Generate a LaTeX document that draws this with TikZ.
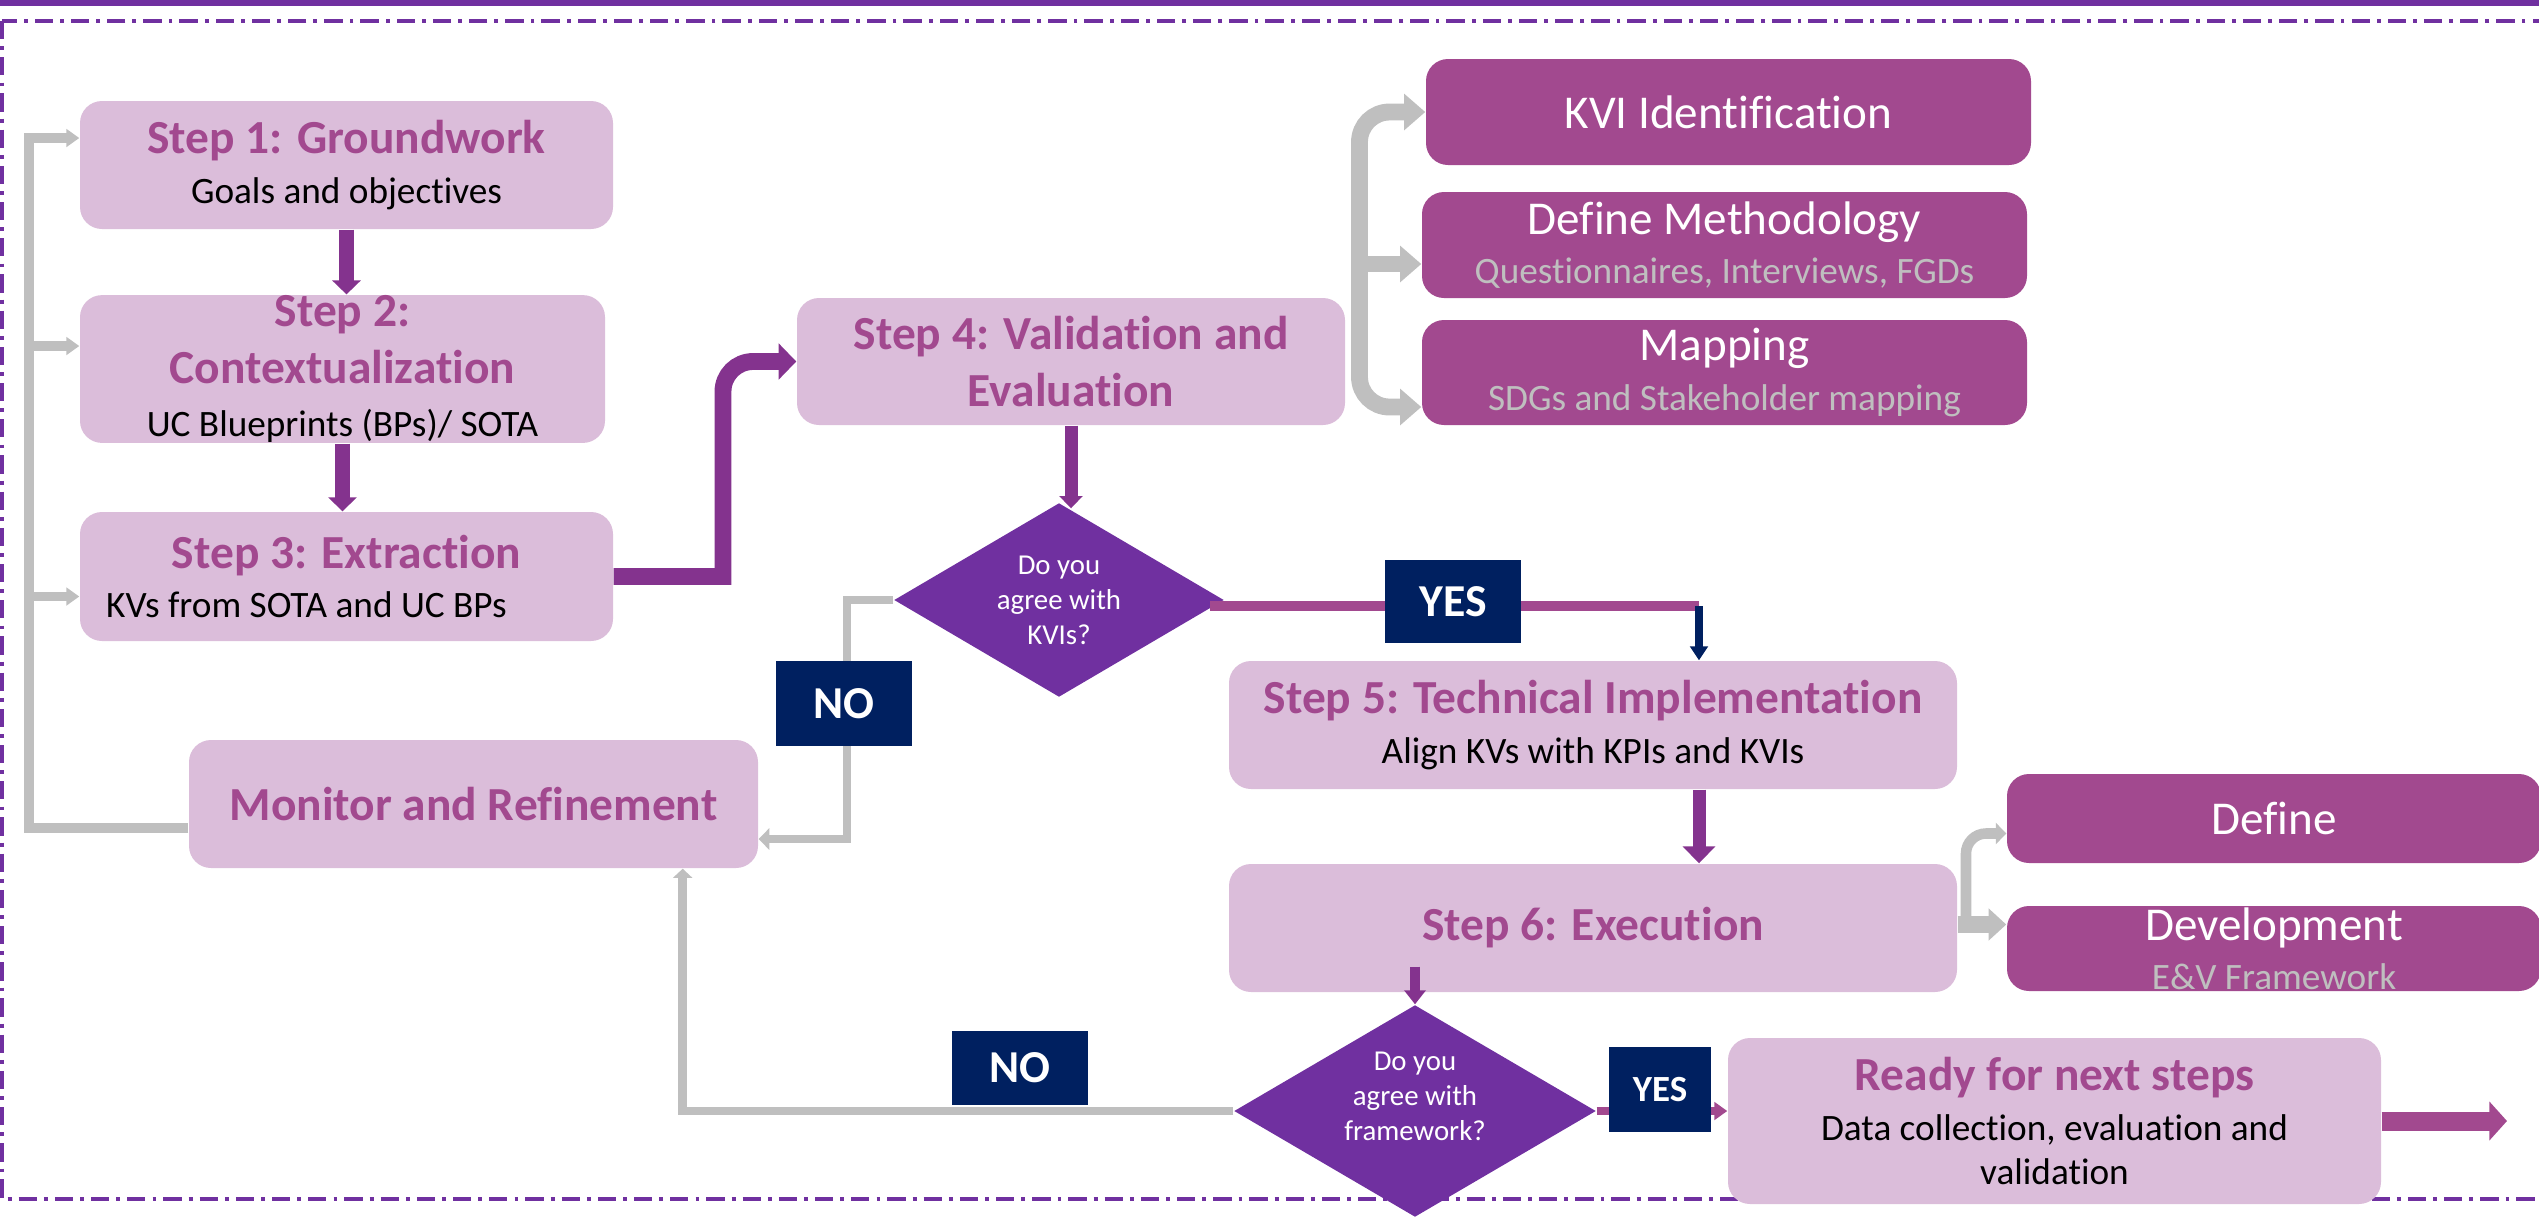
\documentclass[tikz,border=0pt]{standalone}
\usepackage{fontspec}
\setmainfont{Carlito}[Ligatures=NoCommon]
\usepackage{xcolor}
\usepackage{tikz}
\usetikzlibrary{arrows.meta, positioning, calc, shapes.geometric}

\definecolor{frame}{HTML}{7030A0}
\definecolor{lilac}{HTML}{DBBDDA}
\definecolor{mauve}{HTML}{A2498F}
\definecolor{plum}{HTML}{84338E}
\definecolor{navy}{HTML}{002060}
\definecolor{ash}{HTML}{BFBFBF}

\newcommand{\hd}[1]{{\fontsize{13.5}{16}\selectfont\bfseries\color{mauve}#1}}
\newcommand{\faint}[1]{{\fontsize{10.6}{12.7}\selectfont\color{ash}#1}}

\begin{document}
\begin{tikzpicture}[
    font=\fontsize{10.6}{12.7}\selectfont,
    box/.style={rounded corners=0.22cm, inner sep=0pt, align=center},
    stepbox/.style={box, fill=lilac},
    darkbox/.style={box, fill=mauve, text=white, font=\fontsize{13.4}{14}\selectfont},
    decide/.style={diamond, aspect=1.7, fill=frame, text=white, inner sep=0pt, align=center,
                   font=\fontsize{8.2}{10}\selectfont},
    tag/.style={fill=navy, text=white, inner sep=0pt, font=\fontsize{13}{14}\selectfont\bfseries},
    flow/.style={draw=plum, line width=4pt, -{Triangle[length=4pt, width=8pt]}},
    bigflow/.style={draw=plum, line width=4.8pt, -{Triangle[length=5pt, width=10pt]}},
    yline/.style={draw=mauve, line width=2.8pt},
    gline/.style={draw=ash, line width=2.8pt, -{Triangle[length=3.7pt, width=5pt]}},
    gthin/.style={draw=ash, line width=2.5pt, -{Triangle[length=3pt, width=6pt]}},
    gbar/.style={draw=ash, line width=4.8pt}
  ]
    \useasboundingbox (0,0) rectangle (25.39,-12.20);
    \fill[frame] (0,0.01) rectangle (25.39,-0.06);
    \draw[frame, line width=1.1pt, dash pattern=on 5.2pt off 2pt on 1.1pt off 2pt]
      (0.02,-0.21) rectangle (25.6,-11.99);

    \node[stepbox, minimum width=5.33cm, minimum height=1.28cm] (s1) at (3.465,-1.65)
      {\hd{Step 1: Groundwork}\\[1.5pt] Goals and objectives};
    \node[stepbox, minimum width=5.25cm, minimum height=1.42cm] (s2) at (3.425,-3.69)
      {\hd{Step 2:}\\[3.6pt] \hd{Contextualization}\\[2.5pt] UC Blueprints (BPs)/ SOTA};
    \node[stepbox, minimum width=5.33cm, minimum height=1.29cm] (s3) at (3.465,-5.765)
      {\hd{Step 3: Extraction}\\[1.5pt] KVs from SOTA and UC BPs\kern0.8cm};
    \node[stepbox, minimum width=5.48cm, minimum height=1.27cm] (s4) at (10.71,-3.615)
      {\hd{Step 4: Validation and}\\[3.6pt] \hd{Evaluation}};
    \node[darkbox, minimum width=6.05cm, minimum height=1.06cm] (kvi) at (17.285,-1.12)
      {KVI Identification};
    \node[darkbox, minimum width=6.05cm, minimum height=1.06cm] (dm) at (17.245,-2.45)
      {Define Methodology\\ \faint{Questionnaires, Interviews, FGDs}};
    \node[darkbox, minimum width=6.05cm, minimum height=1.05cm] (map) at (17.245,-3.725)
      {Mapping\\ \faint{SDGs and Stakeholder mapping}};
    \node[decide, minimum width=3.30cm, minimum height=1.94cm] (d1) at (10.59,-6.00)
      {Do you\\agree with\\KVIs?};
    \node[stepbox, minimum width=7.28cm, minimum height=1.28cm] (s5) at (15.93,-7.25)
      {\hd{Step 5: Technical Implementation}\\[1.5pt] Align KVs with KPIs and KVIs};
    \node[stepbox, minimum width=5.69cm, minimum height=1.28cm] (mon) at (4.735,-8.04)
      {\hd{Monitor and Refinement}};
    \node[stepbox, minimum width=7.28cm, minimum height=1.28cm] (s6) at (15.93,-9.28)
      {\hd{Step 6: Execution}};
    \node[darkbox, minimum width=5.34cm, minimum height=0.89cm] (def) at (22.74,-8.185)
      {Define};
    \node[darkbox, minimum width=5.34cm, minimum height=0.85cm] (dev) at (22.74,-9.485)
      {Development\\ \faint{E\&V Framework}};
    \node[decide, minimum width=3.62cm, minimum height=2.12cm, text depth=8.3pt] (d2)
      at (14.15,-11.11) {Do you\\agree with\\framework?};
    \node[stepbox, minimum width=6.53cm, minimum height=1.66cm] (ready) at (20.545,-11.21)
      {\hd{Ready for next steps}\\[1.5pt] Data collection, evaluation and\\validation};

    \coordinate (rail) at (0.29,-1.38);
    \coordinate (in2) at ($(s2.west)+(0,0.23)$);
    \coordinate (in3) at ($(s3.west)+(0,-0.20)$);
    \coordinate (riser) at (7.23,-4.6);
    \coordinate (fork) at (13.595,-4.07);
    \coordinate (dmin) at ($(dm.west)+(0,-0.19)$);
    \coordinate (nobend) at (8.47,-8.39);
    \coordinate (monup) at ($(mon.south east)+(-0.76,0)$);
    \coordinate (ybend) at (16.99,-6.06);
    \coordinate (devin) at ($(dev.west)+(0,0.24)$);
    \coordinate (sfork) at (19.66,-9.245);
    \coordinate (out) at (25.07,-11.21);

    \draw[flow] (s1.south) -- (s1.south |- s2.north);
    \draw[flow] (s2.south) -- (s2.south |- s3.north);
    \draw[bigflow] (s3.east) -- (s3.east -| riser) [rounded corners=0.3cm]
      -- (riser |- s4.west) -- (s4.west);
    \draw[flow, line width=3.7pt, -{Triangle[length=3.5pt, width=6.5pt]}]
      (s4.south) -- ($(s4.south |- d1.north)+(0,-0.06)$);
    \draw[gbar, {Triangle[length=6pt, width=10pt]}-{Triangle[length=6pt, width=10pt]}]
      (kvi.west) [rounded corners=0.3cm] -| (fork) [sharp corners] -- (fork -| map.west);
    \draw[gbar, -{Triangle[length=6pt, width=10pt]}] (fork |- dmin) -- (dmin);

    \draw[gline] ($(mon.west)+(0,-0.24)$) -| (rail) -- (rail -| s1.west);
    \draw[gline] (rail |- in2) -- (in2);
    \draw[gline] (rail |- in3) -- (in3);

    \draw[gthin] (d1.west) -| (nobend) -- (nobend -| mon.east);
    \draw[gthin, -{Triangle[length=2.6pt, width=5.4pt]}] (d2.west) -| (monup);

    \draw[yline] ($(d1.east)+(-0.15,-0.06)$) -- (ybend);
    \draw[navy, line width=2pt, -{Triangle[length=4pt, width=5pt]}] (ybend) -- (ybend |- s5.north);
    \draw[flow, line width=3.7pt, -{Triangle[length=4.8pt, width=9pt]}]
      (ybend |- s5.south) -- (ybend |- s6.north);
    \draw[flow, line width=2.8pt, -{Triangle[length=4pt, width=6pt]}]
      ($(d2.north |- s6.south)+(0,0.26)$) -- (d2.north);

    \draw[gbar, -{Triangle[length=5pt, width=8.8pt]}] (s6.east |- devin) -- (devin);
    \draw[gline, line width=3pt, rounded corners=0.2cm, -{Triangle[length=3pt, width=6pt]}]
      (sfork) |- ($(def.west)+(0,-0.15)$);

    \draw[yline, line width=2.3pt, -{Triangle[length=3.7pt, width=5pt]}]
      (d2.east) -- (d2.east -| ready.west);
    \draw[yline, line width=5.4pt, -{Triangle[length=5pt, width=10.8pt]}]
      (ready.east) -- (ready.east -| out);

    \node[tag, minimum width=1.36cm, minimum height=0.83cm] (yes1) at (14.53,-6.015) {YES};
    \node[tag, minimum width=1.36cm, minimum height=0.85cm] (no1) at (8.44,-7.035) {NO};
    \node[tag, minimum width=1.36cm, minimum height=0.74cm] (no2) at (10.20,-10.68) {NO};
    \node[tag, minimum width=1.02cm, minimum height=0.85cm,
          font=\fontsize{10.5}{12}\selectfont\bfseries] (yes2) at (16.60,-10.895) {YES};
  \end{tikzpicture}
\end{document}
